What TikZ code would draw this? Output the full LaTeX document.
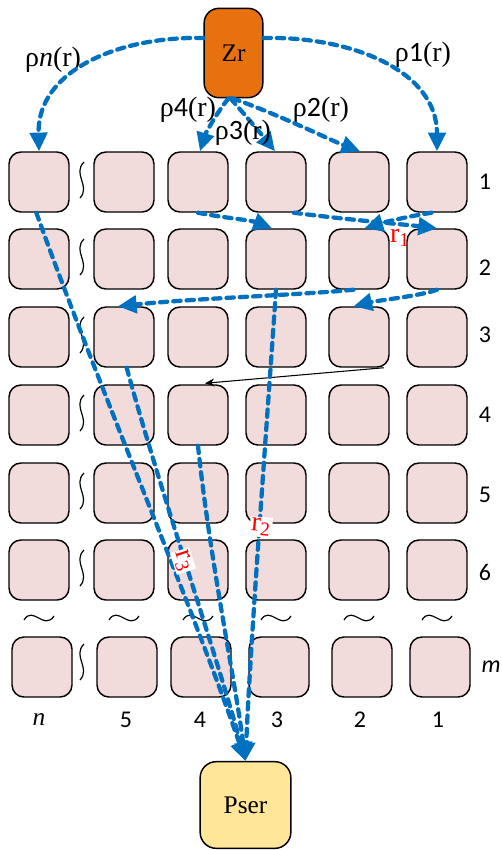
\documentclass[tikz,border=0pt]{standalone}
\usepackage{fontspec}
\setmainfont{Liberation Serif}
\newfontfamily\carl{Carlito}
\usetikzlibrary{arrows.meta,calc}
\definecolor{cellpink}{HTML}{F2DCDB}
\definecolor{zrorange}{HTML}{E8710F}
\definecolor{seryellow}{HTML}{FFE699}
\definecolor{flowblue}{HTML}{0070C0}
\begin{document}
\begin{tikzpicture}[x=0.75pt,y=-0.75pt,
  cell/.style={draw=black,line width=1.1pt,fill=cellpink,rounded corners=9pt,minimum width=45pt,minimum height=45pt,inner sep=0pt},
  flow/.style={draw=flowblue,line width=3.2pt,dash pattern=on 5.5pt off 4.5pt,line cap=round,-{Triangle[length=14pt,width=13pt,line cap=butt]}},
  lab/.style={font=\fontsize{21}{23}\selectfont,inner sep=1pt},
  rowlab/.style={font=\carl\fontsize{18}{20}\selectfont,inner sep=0pt},
  rlab/.style={text=red,font=\fontsize{21}{23}\selectfont,inner sep=1pt},
  wave/.style={draw=black,line width=0.9pt}]
\useasboundingbox (0,0) rectangle (501,850);
% grid
\foreach \c/\x in {n/39,5/124,4/198,3/276,2/359,1/437}{
  \foreach \r/\y in {1/182,2/259,3/337,4/415,5/493,6/570}{
    \node[cell] (c\c r\r) at (\x,\y) {};
  }
  \node[cell] (c\c rm) at (\x+3,667) {};
  % horizontal tilde
  \draw[wave] (\x-15,620) .. controls (\x-6,605) and (\x+5,631) .. (\x+15,616);
}
% vertical tildes
\foreach \y in {180,257,335,413,491,568,662}{
  \draw[wave] (84,\y-18) .. controls (72,\y-6) and (91,\y+6) .. (80,\y+18);
}
% Zr and Pser
\node[draw=black,line width=1.1pt,fill=zrorange,rounded corners=11pt,minimum width=44pt,minimum height=67pt,inner sep=0pt,font=\fontsize{19}{21}\selectfont] (zr) at (233.5,53) {Zr};
\node[draw=black,line width=1.1pt,fill=seryellow,rounded corners=12pt,minimum width=68pt,minimum height=65pt,inner sep=0pt,font=\fontsize{19}{21}\selectfont] (pser) at (245.5,805) {Pser};
% row labels
\foreach \r/\y in {1/182,2/268,3/335,4/415,5/495,6/572}{
  \node[rowlab] (rl\r) at (485,\y) {\r};
}
\node[rowlab,font=\carl\itshape\fontsize{18}{20}\selectfont] (rlm) at (491,667) {m};
% column labels
\node[rowlab,font=\itshape\fontsize{19}{21}\selectfont] (cln) at (39,720) {n};
\foreach \c/\x in {5/126,4/200,3/277,2/360,1/438}{
  \node[rowlab] (cl\c) at (\x,720) {\c};
}
% rho labels
\node[lab] (lrn) at (53,60) {ρ{\itshape n}(r)};
\node[lab] (lr1) at (423,55) {ρ{\carl 1}(r)};
\node[lab] (lr4) at (188,110) {ρ{\carl 4}(r)};
\node[lab] (lr2) at (321,110) {ρ{\carl 2}(r)};
% flows from Zr
\draw[flow] ($(zr.west)+(0,-15)$) .. controls (120,36) and (37,70) .. (cnr1.north);
\draw[flow] ($(zr.east)+(0,-15)$) .. controls (350,36) and (437,70) .. (c1r1.north);
\draw[flow] ($(zr.south)+(-5,0)$) .. controls (215,115) and (205,135) .. ($(c4r1.north)+(2,0)$);
\draw[flow] ($(zr.south)+(-3,0)$) .. controls (245,115) and (262,135) .. ($(c3r1.north)+(-1,0)$);
\draw[flow] ($(zr.south)+(-1,0)$) .. controls (280,115) and (330,140) .. ($(c2r1.north)+(1,0)$);
\node[lab] (lr3) at (243,133) {ρ{\carl 3}(r)};
% flows between cells
\draw[flow] (c4r1.south) .. controls (225,218) and (250,220) .. ($(c3r2.north)+(-4,0)$);
\draw[flow] (c3r1.-60) .. controls (350,220) and (400,224) .. (c1r2.north);
\draw[flow] (c1r1.-100) .. controls (410,216) and (385,222) .. (c2r2.80);
\draw[flow] (c2r2.-100) .. controls (300,295) and (200,298) .. ($(c5r3.north)+(-6,0)$);
\draw[flow] (c1r2.south) .. controls (420,296) and (380,300) .. (c2r3.100);
\draw[black,line width=0.8pt,-{Stealth[length=7pt,width=6pt]}] ($(c2r3.south east)+(-6,0)$) -- ($(c4r4.north)+(7,-1)$);
% long flows to Pser
\draw[flow] (cnr1.-95) .. controls (100,390) and (190,600) .. (pser.north);
\draw[flow] (c5r3.-85) .. controls (160,490) and (215,650) .. (pser.north);
\draw[flow] (c4r4.south) .. controls (210,560) and (235,680) .. (pser.north);
\draw[flow] (c3r2.south) .. controls (265,450) and (250,650) .. (pser.north);
% r labels
\node[rlab] (r1) at (400,238) {r$_{\mathrm{1}}$};
\node[rlab,fill=white,rotate=-5] (r2) at (261,527) {r$_{\mathrm{2}}$};
\node[rlab,fill=white,rotate=-72] (r3) at (183,561) {r$_{\mathrm{3}}$};
\end{tikzpicture}
\end{document}
